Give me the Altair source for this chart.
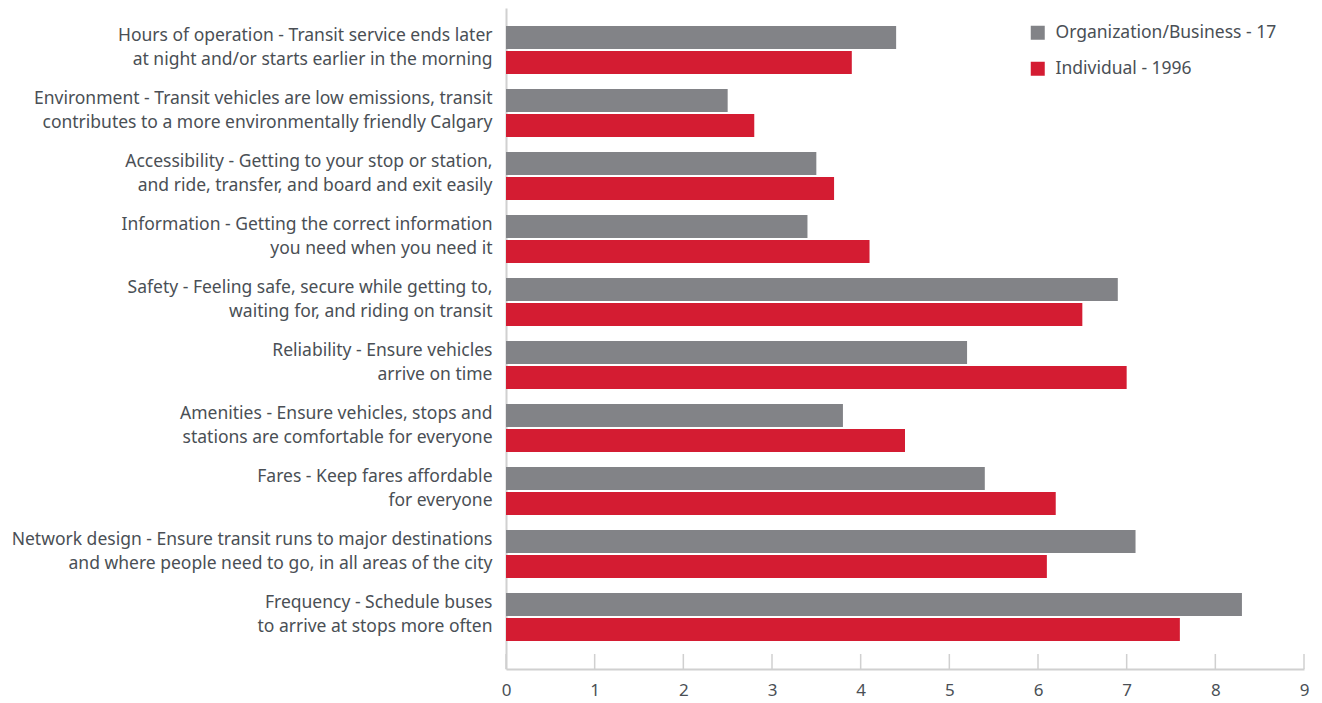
import altair as alt
import pandas as pd

categories = [
    "Hours of operation - Transit service ends later|at night and/or starts earlier in the morning",
    "Environment - Transit vehicles are low emissions, transit|contributes to a more environmentally friendly Calgary",
    "Accessibility - Getting to your stop or station,|and ride, transfer, and board and exit easily",
    "Information - Getting the correct information|you need when you need it",
    "Safety - Feeling safe, secure while getting to,|waiting for, and riding on transit",
    "Reliability - Ensure vehicles|arrive on time",
    "Amenities - Ensure vehicles, stops and|stations are comfortable for everyone",
    "Fares - Keep fares affordable|for everyone",
    "Network design - Ensure transit runs to major destinations|and where people need to go, in all areas of the city",
    "Frequency - Schedule buses|to arrive at stops more often",
]
org = [4.4, 2.5, 3.5, 3.4, 6.9, 5.2, 3.8, 5.4, 7.1, 8.3]
ind = [3.9, 2.8, 3.7, 4.1, 6.5, 7.0, 4.5, 6.2, 6.1, 7.6]
series = ["Organization/Business - 17", "Individual - 1996"]
colors = ["#828387", "#d41c32"]
ticks = list(range(10))

rows = []
for c, o, i in zip(categories, org, ind):
    rows.append({"category": c, "series": series[0], "value": o})
    rows.append({"category": c, "series": series[1], "value": i})
df = pd.DataFrame(rows)

W, H = 798, 661
FONT = "Noto Sans"
TXT = "#4a4f55"
AX = "#d0d0d0"

bars = alt.Chart(df).mark_bar().encode(
    y=alt.Y(
        "category:N",
        sort=categories,
        scale=alt.Scale(paddingInner=0.238, paddingOuter=0.365, align=0.39),
        axis=alt.Axis(
            title=None,
            labelExpr="split(datum.label, '|')",
            labelFont=FONT,
            labelFontSize=17.5,
            labelColor=TXT,
            labelLineHeight=24,
            labelOffset=-14,
            ticks=False,
            domainColor=AX,
            domainWidth=2,
            labelPadding=14,
            labelLimit=700,
        ),
    ),
    x=alt.X(
        "value:Q",
        scale=alt.Scale(domain=[0, 9], nice=False),
        axis=alt.Axis(
            values=ticks,
            title=None,
            grid=False,
            ticks=False,
            domainColor=AX,
            domainWidth=2,
            labelPadding=13,
            labelFlush=False,
            labelFont=FONT,
            labelFontSize=17,
            labelColor=TXT,
            format="d",
        ),
    ),
    yOffset=alt.YOffset("series:N", sort=series, scale=alt.Scale(paddingInner=0.08)),
    color=alt.Color(
        "series:N",
        sort=series,
        scale=alt.Scale(domain=series, range=colors),
        legend=alt.Legend(
            title=None,
            orient="none",
            legendX=523,
            legendY=16,
            symbolType="square",
            symbolSize=196,
            symbolStrokeWidth=0,
            labelFont=FONT,
            labelFontSize=17.5,
            labelColor=TXT,
            labelOffset=9,
            rowPadding=17,
            labelLimit=400,
        ),
    ),
)

tick_marks = alt.Chart(pd.DataFrame({"t": ticks})).mark_rule(
    color=AX, strokeWidth=1.5
).encode(x="t:Q", y=alt.value(H - 15), y2=alt.value(H))

chart = (
    alt.layer(bars, tick_marks)
    .properties(width=W, height=H, padding={"left": 3, "top": 0, "right": 5, "bottom": 5})
    .configure_view(stroke=None)
)

chart.save("out.html", embed_options={"renderer": "svg", "actions": False})
